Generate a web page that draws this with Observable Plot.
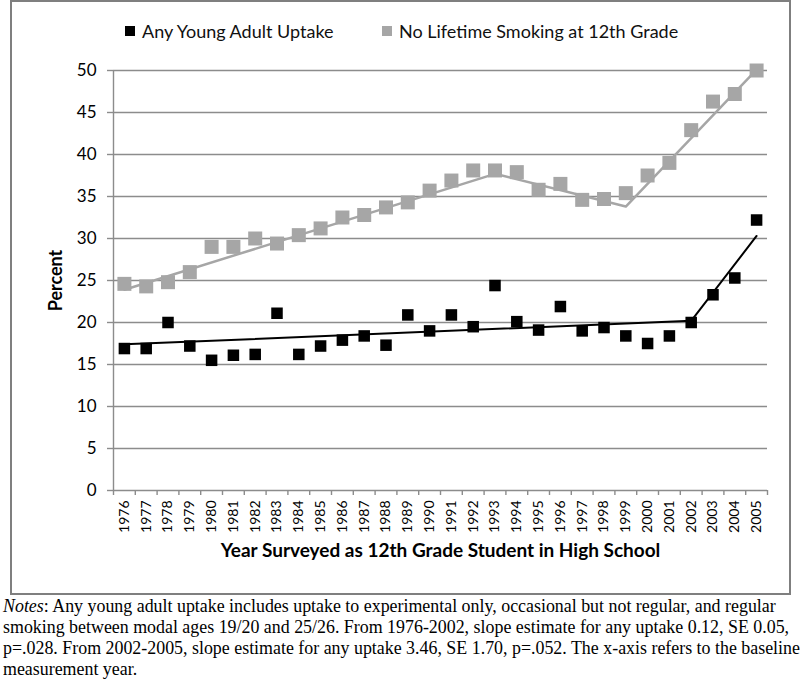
<!DOCTYPE html>
<html>
<head>
<meta charset="utf-8">
<script src="https://cdn.jsdelivr.net/npm/d3@7"></script>
<script src="https://cdn.jsdelivr.net/npm/@observablehq/plot@0.6"></script>
<style>
  body { margin: 0; background: white; }
  #fig { position: relative; width: 800px; height: 685px; overflow: hidden; }
  #chart { position: absolute; left: 0; top: 0; }
  #frame { position: absolute; left: 10px; top: 0; width: 781px; height: 595px; border: 2.5px solid #7f7f7f; box-sizing: border-box; pointer-events: none; }
  .leg { position: absolute; top: 21px; height: 20px; display: flex; align-items: center; font-family: Lato, sans-serif; font-size: 18px; color: #111; white-space: nowrap; }
  .sw { width: 10px; height: 10px; margin-right: 7px; }
  #notes { position: absolute; left: 3px; top: 596px; font-family: "Liberation Serif", serif; font-size: 17.9px; line-height: 21px; white-space: nowrap; color: #000; }
</style>
</head>
<body>
<div id="fig">
  <div id="chart"></div>
  <div id="frame"></div>
  <div class="leg" style="left:125px"><div class="sw" style="background:#000"></div><span id="l1"></span></div>
  <div class="leg" style="left:382px"><div class="sw" style="background:#a6a6a6"></div><span id="l2"></span></div>
  <div id="notes"><i>Notes</i>: Any young adult uptake includes uptake to experimental only, occasional but not regular, and regular<br>smoking between modal ages 19/20 and 25/26. From 1976-2002, slope estimate for any uptake 0.12, SE 0.05,<br>p=.028. From 2002-2005, slope estimate for any uptake 3.46, SE 1.70, p=.052. The x-axis refers to the baseline<br>measurement year.</div>
</div>
<script>
// ---- data ----
const years = [1976,1977,1978,1979,1980,1981,1982,1983,1984,1985,1986,1987,1988,1989,1990,
               1991,1992,1993,1994,1995,1996,1997,1998,1999,2000,2001,2002,2003,2004,2005];
const anyUptake = [16.9,16.9,20.0,17.2,15.5,16.1,16.2,21.1,16.2,17.2,17.9,18.4,17.3,20.9,19.0,
                   20.9,19.5,24.4,20.1,19.1,21.9,19.0,19.4,18.4,17.5,18.4,20.0,23.3,25.3,32.2];
const noSmoking = [24.6,24.3,24.8,26.0,29.0,29.0,30.0,29.4,30.4,31.2,32.5,32.8,33.7,34.3,35.7,
                   36.9,38.1,38.1,37.9,35.8,36.5,34.6,34.7,35.4,37.5,39.0,42.9,46.3,47.2,50.0];
const uptakeFitYears = [1976, 2002, 2005];
const uptakeFit = [17.4, 20.2, 30.3];
const noSmokeFitYears = [1976, 1993, 1999, 2005];
const noSmokeFit = [23.9, 37.7, 33.8, 50.1];
const yTicks = [0,5,10,15,20,25,30,35,40,45,50];
const seriesNames = ["Any Young Adult Uptake", "No Lifetime Smoking at 12th Grade"];
const yLabel = "Percent";
const xLabel = "Year Surveyed as 12th Grade Student in High School";

document.getElementById("l1").textContent = seriesNames[0];
document.getElementById("l2").textContent = seriesNames[1];

const uptakeData = years.map((y, i) => ({year: y, value: anyUptake[i]}));
const noSmokeData = years.map((y, i) => ({year: y, value: noSmoking[i]}));
const uptakeFitData = uptakeFitYears.map((y, i) => ({year: y, value: uptakeFit[i]}));
const noSmokeFitData = noSmokeFitYears.map((y, i) => ({year: y, value: noSmokeFit[i]}));
const boundaries = [...years.map(y => y - 0.5), years[years.length - 1] + 0.5];

const grid = "#8c8c8c";
const gray = "#a6a6a6";

const chart = Plot.plot({
  width: 800,
  height: 594,
  marginTop: 70,
  marginBottom: 104,
  marginLeft: 113,
  marginRight: 33,
  style: {fontFamily: "Lato, sans-serif", background: "transparent", color: "black"},
  x: {type: "linear", domain: [1975.5, 2005.5]},
  y: {domain: [0, 50]},
  marks: [
    Plot.gridY(yTicks, {stroke: grid, strokeOpacity: 1, strokeWidth: 1.4}),
    Plot.ruleX([1975.5], {stroke: grid, strokeWidth: 1.4}),
    Plot.axisY(yTicks, {tickSize: 6, tickPadding: 11, fontSize: 17, stroke: grid, strokeWidth: 1.4, label: null}),
    Plot.axisX(boundaries, {tickSize: 5, tickFormat: () => "", stroke: grid, strokeWidth: 1.4, label: null}),
    Plot.axisX(years, {tickSize: 0, tickRotate: -90, tickPadding: 10, fontSize: 14, tickFormat: d => String(d), label: null}),
    Plot.text([yLabel], {frameAnchor: "left", textAnchor: "middle", lineAnchor: "middle", dx: -57, rotate: -90, fontWeight: "bold", fontSize: 18}),
    Plot.text([xLabel], {frameAnchor: "bottom", textAnchor: "middle", lineAnchor: "middle", dy: 60, fontWeight: "bold", fontSize: 19}),
    Plot.line(noSmokeFitData, {x: "year", y: "value", stroke: gray, strokeWidth: 2.5}),
    Plot.line(uptakeFitData, {x: "year", y: "value", stroke: "black", strokeWidth: 2}),
    Plot.dot(noSmokeData, {x: "year", y: "value", symbol: "square", r: 7.9, fill: gray}),
    Plot.dot(uptakeData, {x: "year", y: "value", symbol: "square", r: 6.5, fill: "black"})
  ]
});
document.getElementById("chart").appendChild(chart);
</script>
</body>
</html>
